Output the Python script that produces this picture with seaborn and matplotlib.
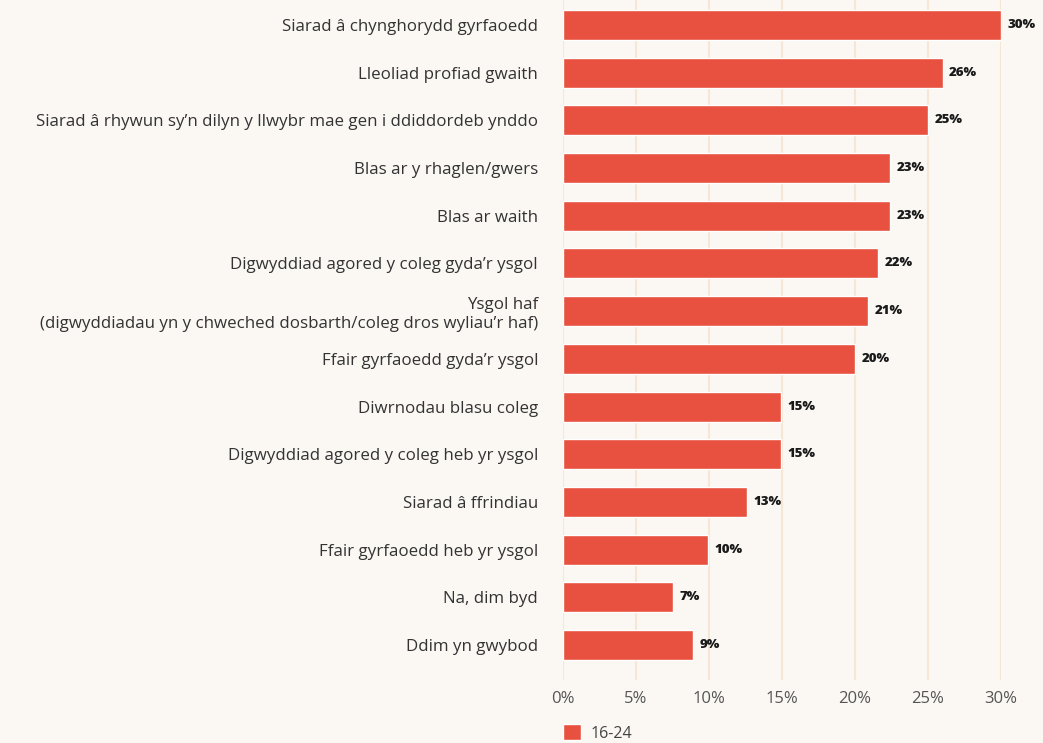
import matplotlib
matplotlib.use("Agg")
import matplotlib.pyplot as plt
import seaborn as sns
import pandas as pd
from matplotlib.ticker import FuncFormatter

categories = [
    "Siarad â chynghorydd gyrfaoedd",
    "Lleoliad profiad gwaith",
    "Siarad â rhywun sy’n dilyn y llwybr mae gen i ddiddordeb ynddo",
    "Blas ar y rhaglen/gwers",
    "Blas ar waith",
    "Digwyddiad agored y coleg gyda’r ysgol",
    "Ysgol haf\n(digwyddiadau yn y chweched dosbarth/coleg dros wyliau’r haf)",
    "Ffair gyrfaoedd gyda’r ysgol",
    "Diwrnodau blasu coleg",
    "Digwyddiad agored y coleg heb yr ysgol",
    "Siarad â ffrindiau",
    "Ffair gyrfaoedd heb yr ysgol",
    "Na, dim byd",
    "Ddim yn gwybod",
]
values = [30.0, 26.0, 25.0, 22.4, 22.4, 21.6, 20.9, 20.0, 14.9, 14.9, 12.6, 9.9, 7.5, 8.9]
value_labels = ["30%", "26%", "25%", "23%", "23%", "22%", "21%", "20%", "15%", "15%", "13%", "10%", "7%", "9%"]
series_name = "16-24"
x_ticks = [0, 5, 10, 15, 20, 25, 30]

BG = "#FBF8F4"
BAR = "#E8503F"
GRID = "#F6E6D6"

sns.set_theme(style="white")
plt.rcParams["font.family"] = ["Open Sans", "DejaVu Sans"]

df = pd.DataFrame({"category": categories, "value": values, "group": series_name})

fig = plt.figure(figsize=(10.43, 7.43), dpi=100, facecolor=BG)
ax = fig.add_axes([563 / 1043, 1 - 680 / 743, (1001 - 563) / 1043, 680 / 743])
ax.set_facecolor(BG)

sns.barplot(data=df, x="value", y="category", hue="group", palette=[BAR],
            width=0.63, ax=ax, zorder=3, saturation=1, legend=True)

ax.set_xlim(0, 30)
ax.set_ylim(13.73, -0.52)
ax.set_xticks(x_ticks)
ax.xaxis.set_major_formatter(FuncFormatter(lambda v, p: f"{int(v)}%"))
ax.grid(axis="x", color=GRID, linewidth=1.5, zorder=0)
ax.grid(axis="y", visible=False)
for s in ax.spines.values():
    s.set_visible(False)
ax.set_xlabel("")
ax.set_ylabel("")
ax.tick_params(axis="x", length=0, pad=8, labelsize=12, labelcolor="#555555")
ax.tick_params(axis="y", length=0, pad=18, labelsize=12.2, labelcolor="#333333")
for lbl in ax.get_yticklabels():
    lbl.set_multialignment("right")

for i, (v, t) in enumerate(zip(values, value_labels)):
    ax.text(v + 0.45, i, t, va="center", ha="left", fontsize=9.5,
            fontweight="heavy", color="#1a1a1a", zorder=4)

leg = ax.legend(loc="center left", bbox_to_anchor=(0.0, -0.078), frameon=False,
                fontsize=11.5, handlelength=1.1, handleheight=1.1, handletextpad=0.6,
                borderaxespad=0, borderpad=0)
for t in leg.get_texts():
    t.set_color("#444444")

fig.savefig("out.png", dpi=100, facecolor=BG)
